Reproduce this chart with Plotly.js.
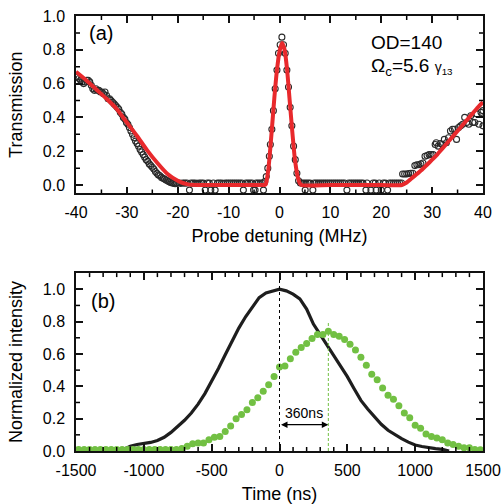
<!DOCTYPE html>
<html>
<head>
<meta charset="utf-8">
<script src="https://cdn.plot.ly/plotly-3.0.1.min.js"></script>
<style>html,body{margin:0;padding:0;background:#fff;}#chart{width:502px;height:504px;}</style>
</head>
<body>
<div id="chart"></div>
<script>
// ---------- Panel (a): transmission vs probe detuning ----------
const aDataX = [
-40.0,-39.7,-39.4,-39.1,-38.8,-38.5,-38.2,-37.9,-37.6,-37.3,-37.0,-36.7,-36.4,-36.1,-35.8,-35.5,-35.2,-34.9,-34.6,-34.3,
-34.0,-33.7,-33.4,-33.1,-32.8,-32.5,-32.2,-31.9,-31.6,-31.3,-31.0,-30.7,-30.4,-30.1,-29.8,-29.5,-29.2,-28.9,-28.6,-28.3,
-28.0,-27.7,-27.4,-27.1,-26.8,-26.5,-26.2,-25.9,-25.6,-25.3,-25.0,-24.7,-24.4,-24.1,-23.8,-23.5,-23.2,-22.9,-22.6,-22.3,
-22.0,-21.7,-21.4,-21.1,-20.8,-20.5,-20.2,
-19.8,-19.4,-19.0,-18.6,-18.2,-17.7,-17.4,-17.0,-16.6,-16.2,-15.8,-15.4,-15.0,-14.6,-14.2,-13.8,-13.5,-13.0,-12.65,-12.2,
-11.8,-11.4,-11.0,-10.6,-10.2,-9.8,-9.4,-9.0,-8.6,-8.2,-7.8,-7.4,-7.1,-6.6,-6.2,-5.8,-5.4,-5.1,-4.8,-4.6,-4.2,-3.8,-3.4,-3.15,
-2.9,-2.6,-2.3,-2.0,-1.8,-1.5,-1.2,-0.85,-0.5,-0.2,0.13,0.47,0.79,1.12,1.45,1.77,2.1,2.43,2.77,3.1,3.42,3.75,4.1,
4.4,4.8,5.05,5.2,5.6,6.0,6.56,6.8,7.2,7.6,8.0,8.4,8.8,9.2,9.6,10.0,10.4,10.8,11.2,11.6,12.0,12.4,12.8,13.25,13.6,
14.0,14.4,14.8,15.2,15.6,16.0,16.4,16.99,17.2,17.97,18.4,18.8,19.0,19.6,20.0,20.4,20.8,21.25,21.6,22.0,22.4,22.8,23.2,23.6,24.0,
24.2,24.6,25.0,25.4,25.8,26.2,26.6,27.0,27.4,27.8,28.2,28.6,29.0,29.4,29.8,30.2,30.6,30.8,31.2,31.6,32.0,32.4,32.8,33.2,
33.6,34.0,34.4,34.8,35.2,35.6,36.0,36.4,36.8,37.2,37.6,38.0,38.4,38.8,39.2,39.6,40.0,40.0
];
const aDataY = [
0.64,0.64,0.63,0.62,0.61,0.60,0.61,0.62,0.62,0.61,0.59,0.57,0.56,0.57,0.56,0.56,0.55,0.55,0.54,0.55,
0.53,0.51,0.51,0.50,0.49,0.48,0.47,0.46,0.45,0.43,0.42,0.40,0.39,0.37,0.36,0.34,0.32,0.30,0.28,0.26,
0.245,0.23,0.21,0.195,0.18,0.165,0.15,0.14,0.125,0.115,0.105,0.095,0.08,0.07,0.06,0.055,0.045,0.04,0.035,0.03,
0.025,0.02,0.015,0.012,0.01,0.008,0.01,
0.012,0.01,0.012,0.011,0.012,-0.03,0.012,0.011,0.012,0.01,0.012,0.012,0.011,-0.03,0.012,0.011,-0.03,0.012,-0.03,0.011,
0.012,0.012,0.01,0.012,0.011,0.012,0.012,0.011,0.012,0.012,0.011,0.012,-0.03,0.012,0.011,0.012,0.012,-0.03,-0.03,0.012,0.011,0.012,0.012,-0.03,
0.02,0.05,0.10,0.17,0.24,0.33,0.44,0.57,0.68,0.78,0.83,0.875,0.83,0.78,0.68,0.58,0.46,0.35,0.23,0.15,0.07,0.025,0.012,
0.012,0.011,-0.03,0.012,0.012,0.011,-0.03,0.012,0.012,0.011,0.012,0.012,0.011,0.012,0.012,0.011,0.012,0.012,0.011,0.012,0.012,0.011,0.012,-0.03,0.012,
0.011,0.012,0.012,0.011,0.012,0.012,0.011,-0.03,0.012,-0.03,0.012,0.011,-0.03,0.012,-0.03,0.012,0.011,-0.03,0.012,0.011,0.012,0.012,0.011,0.012,0.012,
0.065,0.065,0.065,0.068,0.07,0.07,0.115,0.12,0.12,0.125,0.13,0.17,0.175,0.18,0.18,0.18,0.24,0.25,0.23,0.245,0.24,0.27,0.25,0.28,
0.32,0.33,0.33,0.27,0.34,0.35,0.36,0.40,0.37,0.36,0.41,0.37,0.37,0.42,0.36,0.43,0.44,0.35
];
const aFitX = [-40,-38,-36,-34,-32,-30,-28,-26,-24,-22,-20,-19,-18,-16,-10,-4,-3,-2.7,-2.5,-2.2,-2,-1.5,-1,-0.5,0,0.5,1,1.5,2,2.5,3,3.5,3.8,4,4.3,10,20,24,25,26,27,28,29,30,31,32,33,34,35,36,37,38,39,40];
const aFitY = [0.67,0.62,0.565,0.51,0.45,0.37,0.29,0.205,0.13,0.065,0.025,0.012,0.004,0.0,0.0,0.0,0.0,0.005,0.03,0.09,0.15,0.33,0.52,0.68,0.79,0.84,0.80,0.68,0.50,0.32,0.16,0.06,0.025,0.01,0.0,0.0,0.0,0.0,0.015,0.04,0.065,0.09,0.12,0.15,0.18,0.215,0.25,0.285,0.32,0.355,0.39,0.425,0.46,0.49];

// ---------- Panel (b): normalized intensity vs time ----------
const bRefT = [-1500,-1450,-1400,-1350,-1300,-1250,-1200,-1150,-1100,-1050,-1000,-950,-900,-850,-800,-750,-700,-650,-600,-550,
-500,-450,-400,-350,-300,-250,-200,-150,-100,-50,0,50,100,150,200,250,300,350,400,450,500,550,600,650,700,750,800,850,900,950,
1000,1050,1100,1150,1200,1250];
const bRefI = [0.0,0.0,0.0,0.0,0.0,0.0,0.0,0.01,0.03,0.04,0.045,0.053,0.065,0.085,0.115,0.15,0.19,0.235,0.29,0.355,
0.43,0.51,0.595,0.68,0.76,0.83,0.89,0.948,0.977,0.99,1.0,0.99,0.97,0.94,0.878,0.785,0.72,0.655,0.585,0.52,0.46,0.385,0.313,0.26,0.21,0.165,0.128,0.10,0.076,0.055,
0.037,0.028,0.02,0.015,0.01,0.0];
const bSlowT = [-1480,-1440,-1400,-1360,-1320,-1280,-1240,-1200,-1160,-1120,-1080,-1040,-1000,-960,-920,-880,-840,-800,-760,-720,
-680,-640,-600,-560,-520,-480,-440,-400,-360,-320,-280,-240,-200,-160,-120,-80,-40,0,40,80,120,160,200,240,280,320,360,400,440,480,
520,560,600,640,680,720,760,800,840,880,920,960,1000,1040,1080,1120,1160,1200,1240,1280,1320,1360,1400,1440,1480];
const bSlowI = [0.01,0.01,0.01,0.01,0.01,0.01,0.01,0.01,0.01,0.01,0.01,0.01,0.01,0.01,0.01,0.01,0.01,0.01,0.01,0.015,
0.03,0.045,0.05,0.05,0.07,0.085,0.09,0.12,0.155,0.2,0.225,0.255,0.3,0.33,0.37,0.41,0.46,0.52,0.525,0.57,0.61,0.64,0.665,0.695,0.72,0.72,0.74,0.72,0.71,0.69,
0.66,0.625,0.58,0.53,0.475,0.44,0.39,0.345,0.32,0.28,0.235,0.205,0.16,0.14,0.105,0.09,0.08,0.07,0.05,0.04,0.03,0.02,0.02,0.01,0.008];
const delayNs = 360;

// ---------- Tick values / labels ----------
const aXTickVals = [-40,-30,-20,-10,0,10,20,30,40];
const aXTickText = ["-40","-30","-20","-10","0","10","20","30","40"];
const aXMinorVals = [-35,-25,-15,-5,5,15,25,35];
const yTickVals = [0,0.2,0.4,0.6,0.8,1.0];
const yTickText = ["0.0","0.2","0.4","0.6","0.8","1.0"];
const yMinorVals = [0.1,0.3,0.5,0.7,0.9];
const bXTickVals = [-1500,-1000,-500,0,500,1000,1500];
const bXTickText = ["-1500","-1000","-500","0","500","1000","1500"];
const bXMinorVals = [-1400,-1300,-1200,-1100,-900,-800,-700,-600,-400,-300,-200,-100,100,200,300,400,600,700,800,900,1100,1200,1300,1400];

const aXRange = [-40, 40], aYRange = [-0.05, 1.0], bXRange = [-1500, 1500], bYRange = [0, 1.1];
const aDomain = [0.592, 1], bDomain = [0, 0.409];

const FONT = "Liberation Sans, Arial, sans-serif";
const RED = "#e8292c";
const GREEN = "#72c043";

const traces = [
  {x: aDataX, y: aDataY, xaxis: "x", yaxis: "y", mode: "markers", type: "scatter",
   marker: {symbol: "circle-open", size: 6, color: "#2a2a2a", line: {width: 1.1}}},
  {x: aFitX, y: aFitY, xaxis: "x", yaxis: "y", mode: "lines", type: "scatter",
   line: {color: RED, width: 4, shape: "spline", smoothing: 0.6}},
  {x: bRefT, y: bRefI, xaxis: "x2", yaxis: "y2", mode: "lines", type: "scatter",
   line: {color: "#1e1e1e", width: 3.2}},
  {x: bSlowT, y: bSlowI, xaxis: "x2", yaxis: "y2", mode: "markers", type: "scatter",
   marker: {symbol: "circle", size: 7, color: GREEN}}
];

// Inward minor tick marks on all four sides, placed through the axes' own scales (pixel-sized length)
function tickShapes(xref, yref, xVals, yVals, xRange, yRange, len, width) {
  const out = [];
  const st = {color: "#000", width: width};
  xVals.forEach(v => {
    out.push({type: "line", layer: "above", xref: xref, yref: yref, x0: v, x1: v,
      ysizemode: "pixel", yanchor: yRange[0], y0: 0, y1: len, line: st});
    out.push({type: "line", layer: "above", xref: xref, yref: yref, x0: v, x1: v,
      ysizemode: "pixel", yanchor: yRange[1], y0: 0, y1: -len, line: st});
  });
  yVals.forEach(v => {
    out.push({type: "line", layer: "above", xref: xref, yref: yref, y0: v, y1: v,
      xsizemode: "pixel", xanchor: xRange[0], x0: 0, x1: len, line: st});
    out.push({type: "line", layer: "above", xref: xref, yref: yref, y0: v, y1: v,
      xsizemode: "pixel", xanchor: xRange[1], x0: 0, x1: -len, line: st});
  });
  return out;
}

function axisCommon() {
  return {
    showgrid: false, zeroline: false, showline: true, linecolor: "#111", linewidth: 1.5,
    mirror: "allticks", ticks: "inside", ticklen: 7, tickwidth: 1.8, tickcolor: "#111",
    tickfont: {family: FONT, size: 16, color: "#000"},
    automargin: false
  };
}

const shapes = [].concat(
  tickShapes("x", "y", aXMinorVals, yMinorVals, aXRange, aYRange, 4, 1.5),
  tickShapes("x2", "y2", bXMinorVals, yMinorVals, bXRange, bYRange, 4, 1.5),
  [
    {type: "line", xref: "x2", yref: "y2", x0: 0, x1: 0, y0: 0, y1: 1.06,
     line: {color: "#000", width: 1, dash: "dot"}},
    {type: "line", xref: "x2", yref: "y2", x0: delayNs, x1: delayNs, y0: 0, y1: 0.8,
     line: {color: GREEN, width: 1, dash: "3px,2px"}}
  ]
);

const layout = {
  width: 502, height: 504,
  margin: {l: 76, r: 19, t: 16, b: 53},
  paper_bgcolor: "#fff", plot_bgcolor: "#fff",
  showlegend: false,
  font: {family: FONT, color: "#000"},
  xaxis: Object.assign(axisCommon(), {
    anchor: "y", range: aXRange, tickmode: "array", tickvals: aXTickVals, ticktext: aXTickText,
    ticklabelstandoff: 4,
    title: {text: "Probe detuning (MHz)", font: {family: FONT, size: 18}, standoff: 9}
  }),
  yaxis: Object.assign(axisCommon(), {
    anchor: "x", domain: aDomain, range: aYRange, tickmode: "array", tickvals: yTickVals, ticktext: yTickText,
    ticklabelstandoff: 6,
    title: {text: "Transmission", font: {family: FONT, size: 18}, standoff: 15}
  }),
  xaxis2: Object.assign(axisCommon(), {
    anchor: "y2", range: bXRange, tickmode: "array", tickvals: bXTickVals, ticktext: bXTickText,
    ticklabelstandoff: 4,
    title: {text: "Time (ns)", font: {family: FONT, size: 18}, standoff: 11}
  }),
  yaxis2: Object.assign(axisCommon(), {
    anchor: "x2", domain: bDomain, range: bYRange, tickmode: "array", tickvals: yTickVals, ticktext: yTickText,
    ticklabelstandoff: 6,
    title: {text: "Normalized intensity", font: {family: FONT, size: 18}, standoff: 15}
  }),
  shapes: shapes,
  annotations: [
    {xref: "x", yref: "y", x: -35, y: 0.9, text: "(a)", showarrow: false,
     font: {family: FONT, size: 20, color: "#000"}},
    {xref: "x", yref: "y", x: 17.6, y: 0.846, xanchor: "left", text: "OD=140", showarrow: false,
     font: {family: FONT, size: 19, color: "#000"}},
    {xref: "x", yref: "y", x: 17.6, y: 0.70, xanchor: "left",
     text: "Ω<sub>c</sub>=5.6 <span style='font-size:14px'>γ<sub>13</sub></span>", showarrow: false,
     font: {family: FONT, size: 19, color: "#000"}},
    {xref: "x2", yref: "y2", x: -1300, y: 0.93, text: "(b)", showarrow: false,
     font: {family: FONT, size: 20, color: "#000"}},
    {xref: "x2", yref: "y2", x: delayNs / 2, y: 0.235, text: "360ns", showarrow: false,
     font: {family: FONT, size: 14, color: "#000"}},
    {xref: "x2", yref: "y2", x: delayNs, y: 0.163, axref: "x2", ayref: "y2", ax: 0, ay: 0.163,
     text: "", showarrow: true, arrowhead: 2, arrowside: "end+start", arrowsize: 1, arrowwidth: 1.3, arrowcolor: "#000"}
  ]
};

Plotly.newPlot("chart", traces, layout, {displayModeBar: false});
</script>
</body>
</html>
